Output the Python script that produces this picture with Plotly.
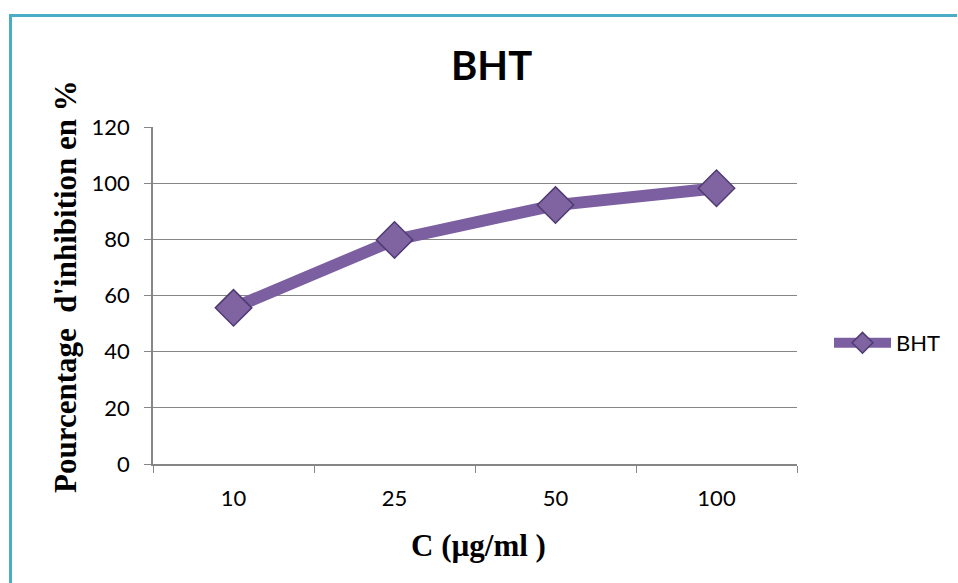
import plotly.graph_objects as go

categories = ["10", "25", "50", "100"]
values = [55.6, 79.8, 92.2, 98.2]
series_name = "BHT"
y_ticks = [0, 20, 40, 60, 80, 100, 120]

W, H = 958, 583
L, R, T, B = 153, 161, 127, 119
PW, PH = W - L - R, H - T - B

fig = go.Figure()
fig.add_trace(go.Scatter(
    x=categories, y=values, name=series_name, mode="lines+markers",
    line=dict(color="#7B5FA0", width=12),
    marker=dict(symbol="diamond", size=28, color="#8064A2",
                line=dict(color="#4F3B72", width=1.5)),
))

fig.update_layout(
    width=W, height=H,
    margin=dict(l=L, r=R, t=T, b=B, autoexpand=False),
    paper_bgcolor="white", plot_bgcolor="white",
    font=dict(family="Lato, Open Sans, sans-serif", size=22, color="#000"),
    showlegend=True,
    legend=dict(x=(829 - L) / PW, y=(464 - 343) / PH, xanchor="left", yanchor="middle",
                font=dict(size=22, family="Lato, sans-serif"),
                bgcolor="rgba(0,0,0,0)", itemwidth=57),
    xaxis=dict(type="category", tickson="boundaries", ticks="outside", ticklen=7,
               tickcolor="#868686", showline=True, linecolor="#868686", linewidth=1.5,
               showgrid=False, tickfont=dict(size=22), range=[-0.5, 3.5],
               ticklabelstandoff=14, fixedrange=True),
    yaxis=dict(range=[0, 120], tickvals=y_ticks, ticks="outside", ticklen=7,
               tickcolor="#868686", showline=True, linecolor="#868686", linewidth=1.5,
               showgrid=True, gridcolor="#868686", gridwidth=1.2, zeroline=False,
               ticklabelstandoff=10, tickfont=dict(size=22)),
    annotations=[
        dict(text="<b>BHT</b>", x=(491 - L) / PW, y=1 + (127 - 65) / PH,
             xref="paper", yref="paper", showarrow=False,
             font=dict(size=40, family="Lato, Open Sans, sans-serif", color="#000"),
             xanchor="center", yanchor="middle"),
        dict(text="<b>C (µg/ml )</b>", x=(478 - L) / PW, y=-(545 - 464) / PH,
             xref="paper", yref="paper", showarrow=False,
             font=dict(size=31, family="Liberation Serif, serif", color="#000"),
             xanchor="center", yanchor="middle"),
        dict(text="<b>Pourcentage  d'inhibition en %</b>", x=-(L - 65) / PW,
             y=(464 - 287) / PH,
             xref="paper", yref="paper", showarrow=False, textangle=-90,
             font=dict(size=31, family="Liberation Serif, serif", color="#000"),
             xanchor="center", yanchor="middle"),
    ],
    shapes=[
        dict(type="line", xref="paper", yref="paper",
             x0=-(L - 9) / PW, x1=(957 - L) / PW,
             y0=1 + (127 - 15.5) / PH, y1=1 + (127 - 15.5) / PH,
             line=dict(color="#4BACC6", width=3)),
        dict(type="line", xref="paper", yref="paper",
             x0=-(L - 10.5) / PW, x1=-(L - 10.5) / PW,
             y0=1 + (127 - 14) / PH, y1=-(583 - 464) / PH,
             line=dict(color="#4BACC6", width=3)),
    ],
)

fig.write_html("out.html")
